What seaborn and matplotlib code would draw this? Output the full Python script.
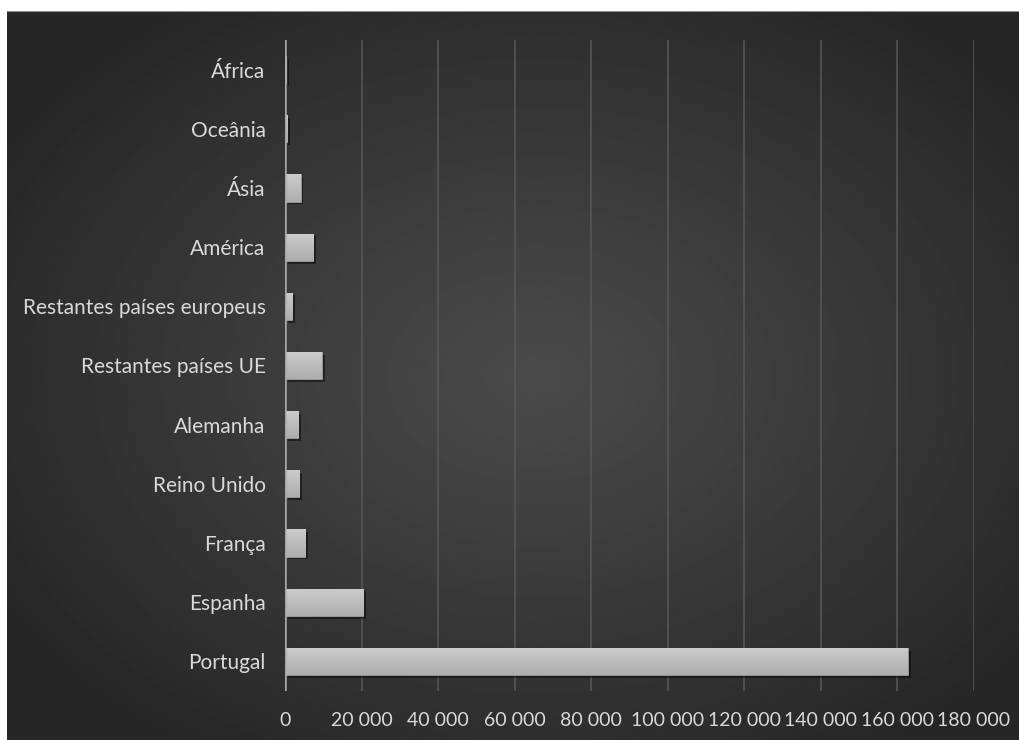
import numpy as np
import matplotlib
matplotlib.use("Agg")
import matplotlib.pyplot as plt
import matplotlib.patheffects as pe
import seaborn as sns
import pandas as pd

categories = ["África", "Oceânia", "Ásia", "América", "Restantes países europeus",
              "Restantes países UE", "Alemanha", "Reino Unido", "França", "Espanha", "Portugal"]
values = [350, 650, 4100, 7400, 1900, 9600, 3500, 3750, 5250, 20400, 162700]
xticks = [0, 20000, 40000, 60000, 80000, 100000, 120000, 140000, 160000, 180000]
xtick_labels = ["0", "20 000", "40 000", "60 000", "80 000", "100 000",
                "120 000", "140 000", "160 000", "180 000"]

df = pd.DataFrame({"categoria": categories, "valor": values})

sns.set_theme(style="white")
plt.rcParams["font.family"] = ["Lato", "DejaVu Sans"]

W, H = 1019, 740
fig = plt.figure(figsize=(W / 100, H / 100), dpi=100)
fig.patch.set_facecolor("white")

# background with radial gradient
bg = fig.add_axes([7 / W, 0, 1 - 7 / W, (H - 11) / H])
bg.set_axis_off()
ny, nx = 400, 560
yy, xx = np.mgrid[0:ny, 0:nx]
cx, cy = nx * 0.52, ny * 0.50
r = np.sqrt(((xx - cx) / (nx * 0.62)) ** 2 + ((yy - cy) / (ny * 0.62)) ** 2)
r = np.clip(r, 0, 1)
inner, outer = 0.29, 0.15
img = inner + (outer - inner) * r ** 1.1
bg.imshow(img, cmap="gray", vmin=0, vmax=1, aspect="auto", extent=[0, 1, 0, 1],
          interpolation="bilinear")
bg.set_xlim(0, 1)
bg.set_ylim(0, 1)
bg.axhline(1, color="#8a8a8a", lw=1.5)

ax = fig.add_axes([285 / W, 1 - 691 / H, (974 - 285) / W, (691 - 40) / H])
ax.patch.set_alpha(0)
sns.barplot(data=df, x="valor", y="categoria", order=categories, orient="h",
            color="#bdbdbd", width=0.46, ax=ax, zorder=3, saturation=1)

ax.set_xlim(0, 180000)
ax.set_ylim(10.5, -0.5)
ax.set_xticks(xticks)
ax.set_xticklabels(xtick_labels)
for x in xticks[1:]:
    ax.axvline(x, ymin=0, ymax=1, color="#585858", lw=1.1, zorder=1)
ax.axvline(0, color="#a8a8a8", lw=1.8, zorder=4)

# gradient fill on bars
grad = np.linspace(0.80, 0.68, 50).reshape(-1, 1)
for p in ax.patches:
    p.set_edgecolor("#a5a5a5")
    p.set_linewidth(0.5)
    p.set_path_effects([pe.SimplePatchShadow(offset=(2, -2), shadow_rgbFace="black", alpha=0.45),
                        pe.Normal()])
    x0, y0 = p.get_x(), p.get_y()
    w, h = p.get_width(), p.get_height()
    im = ax.imshow(grad, cmap="gray", vmin=0, vmax=1, aspect="auto",
                   extent=[x0, x0 + w, y0 + h, y0], interpolation="bilinear", zorder=3.5)
    im.set_clip_path(p)
ax.set_xlim(0, 180000)
ax.set_ylim(10.5, -0.5)

for s in ax.spines.values():
    s.set_visible(False)
ax.set_xlabel("")
ax.set_ylabel("")
ax.tick_params(axis="both", length=0, colors="#d9d9d9")
ax.tick_params(axis="y", pad=14, labelsize=15)
ax.tick_params(axis="x", pad=15, labelsize=14)
for t in ax.get_xticklabels() + ax.get_yticklabels():
    t.set_color("#d9d9d9")

fig.savefig("out.png", dpi=100, facecolor="white")
